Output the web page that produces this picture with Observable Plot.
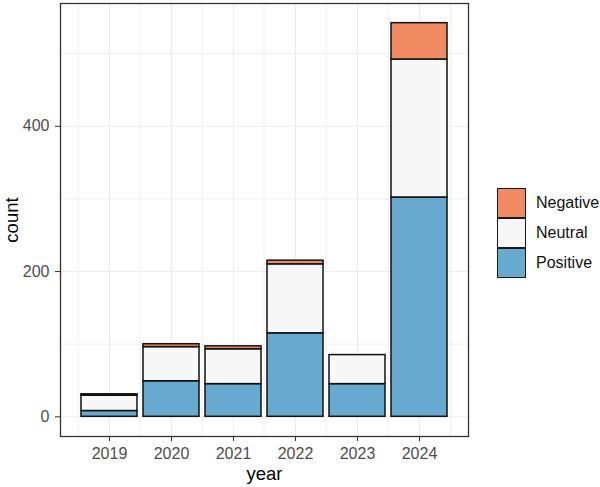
<!DOCTYPE html>
<html>
<head>
<meta charset="utf-8">
<script src="https://cdn.jsdelivr.net/npm/d3@7"></script>
<script src="https://cdn.jsdelivr.net/npm/@observablehq/plot@0.6"></script>
<style>
  html, body { margin: 0; padding: 0; background: #ffffff; overflow: hidden; }
  #wrap { display: flex; align-items: flex-start; width: 600px; height: 487px; font-family: "Liberation Sans", Arial, sans-serif; }
  #chart { flex: none; width: 490px; }
  #legend { flex: none; margin-left: 7px; margin-top: 188px; font-family: "Liberation Sans", Arial, sans-serif; font-size: 16px; color: #111; white-space: nowrap; }
  .key { display: flex; align-items: center; height: 30px; }
  .key .sw { width: 27px; height: 28px; border: 1.5px solid #1a1a1a; margin-right: 10px; box-sizing: content-box; }
</style>
</head>
<body>
<div id="wrap"><div id="chart"></div><div id="legend"></div></div>
<script>
// ---- data ----
const years = ["2019", "2020", "2021", "2022", "2023", "2024"];
const positive = [8, 49, 45, 115, 45, 302];
const neutral = [21, 47, 48, 95, 40, 190];
const negative = [2, 4, 4, 5, 0, 50];
const sentiments = ["Negative", "Neutral", "Positive"];
const colors = ["#EF8A62", "#F7F7F7", "#67A9CF"];
const yTicks = [0, 200, 400];
const yMinor = [100, 300, 500];

// long table built from the arrays
const rows = [];
years.forEach((yr, i) => {
  rows.push({year: yr, sentiment: "Positive", count: positive[i]});
  rows.push({year: yr, sentiment: "Neutral", count: neutral[i]});
  rows.push({year: yr, sentiment: "Negative", count: negative[i]});
});
const data = rows.filter(d => d.count > 0);

const totals = years.map((_, i) => positive[i] + neutral[i] + negative[i]);
const ymax = d3.max(totals);
const pad = ymax * 0.05;

// layout
const W = 490, H = 487;
const mL = 60, mR = 22, mT = 3, mB = 51;
const pIn = 0.1, pOut = 0.293;
const step = (W - mL - mR) / (years.length - pIn + 2 * pOut);

const plot = Plot.plot({
  width: W,
  height: H,
  marginLeft: mL,
  marginRight: mR,
  marginTop: mT,
  marginBottom: mB,
  style: {
    fontFamily: "'Liberation Sans', Arial, sans-serif",
    color: "#4d4d4d",
    background: "#ffffff"
  },
  x: {
    type: "band",
    domain: years,
    paddingInner: pIn,
    paddingOuter: pOut
  },
  y: {
    domain: [-pad, ymax + pad]
  },
  color: { domain: sentiments, range: colors },
  marks: [
    // minor gridlines
    Plot.ruleY(yMinor, {stroke: "#EBEBEB", strokeWidth: 0.8}),
    Plot.ruleX(years, {x: d => d, dx: -step / 2, stroke: "#EBEBEB", strokeWidth: 0.8}),
    Plot.ruleX(years.slice(-1), {x: d => d, dx: step / 2, stroke: "#EBEBEB", strokeWidth: 0.8}),
    // major gridlines
    Plot.ruleY(yTicks, {stroke: "#EBEBEB", strokeWidth: 1.1}),
    Plot.ruleX(years, {x: d => d, stroke: "#EBEBEB", strokeWidth: 1.1}),
    // stacked bars
    Plot.barY(data, {
      x: "year",
      y: "count",
      fill: "sentiment",
      order: ["Positive", "Neutral", "Negative"],
      stroke: "#111",
      strokeWidth: 1.5,
      inset: 0
    }),
    Plot.frame({stroke: "#333333", strokeWidth: 1.3}),
    // axes
    Plot.axisX({label: null, tickSize: 5, tickPadding: 6, fontSize: 16, stroke: "#333", fill: "#4d4d4d"}),
    Plot.axisY({ticks: yTicks, label: null, tickSize: 5, tickPadding: 6, fontSize: 16, stroke: "#333", fill: "#4d4d4d"}),
    // axis titles
    Plot.text(["count"], {frameAnchor: "left", textAnchor: "middle", lineAnchor: "middle", dx: -48, rotate: -90, fontSize: 18.5, fill: "#000"}),
    Plot.text(["year"], {frameAnchor: "bottom", textAnchor: "middle", lineAnchor: "middle", dy: 38, fontSize: 18.5, fill: "#000"})
  ]
});
document.getElementById("chart").appendChild(plot);

// legend from the plot's own color scale
const cs = plot.scale("color");
const legend = d3.select("#legend");
cs.domain.forEach((name, i) => {
  const row = legend.append("div").attr("class", "key");
  row.append("div").attr("class", "sw").style("background", cs.range[i]);
  row.append("span").text(name);
});
</script>
</body>
</html>
